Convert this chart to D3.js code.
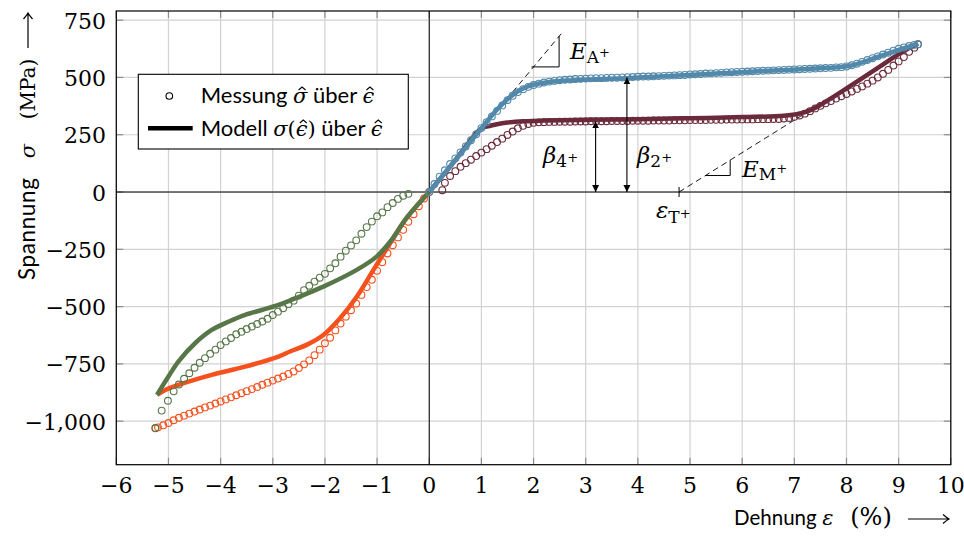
<!DOCTYPE html>
<html>
<head>
<meta charset="utf-8">
<script src="https://cdn.jsdelivr.net/npm/d3@7"></script>
<style>
body { margin: 0; background: #fff; }
svg { display: block; }
</style>
</head>
<body>
<svg id="chart" width="964" height="539"></svg>
<script>
// tick values
var xTicks = [-6, -5, -4, -3, -2, -1, 0, 1, 2, 3, 4, 5, 6, 7, 8, 9, 10];
var yTicks = [-1000, -750, -500, -250, 0, 250, 500, 750];

// measured points [strain %, stress MPa]
var tensionLoadMeas = [[0,0],[0.1,35],[0.2,67],[0.3,95],[0.4,122],[0.5,147],[0.6,173],[0.7,199],[0.8,226],[0.9,252],
  [1.0,279],[1.1,305],[1.2,330],[1.3,354],[1.4,378],[1.5,401],[1.6,420],[1.7,436],[1.8,449],[1.9,459],
  [2.0,467],[2.1,473],[2.2,478],[2.3,482],[2.4,485],[2.5,488],[2.6,490],[2.7,491],[2.8,493],[2.9,494],
  [3.0,495],[3.1,496],[3.2,497],[3.3,497],[3.4,498],[3.5,499],[3.6,499],[3.7,500],[3.8,501],[3.9,502],
  [4.0,503],[4.1,504],[4.2,504],[4.3,505],[4.4,506],[4.5,507],[4.6,508],[4.7,509],[4.8,510],[4.9,511],
  [5.0,513],[5.1,514],[5.2,515],[5.3,517],[5.4,518],[5.5,519],[5.6,520],[5.7,522],[5.8,523],[5.9,524],
  [6.0,525],[6.1,526],[6.2,527],[6.3,528],[6.4,529],[6.5,530],[6.6,531],[6.7,532],[6.8,533],[6.9,534],
  [7.0,535],[7.1,536],[7.2,537],[7.3,538],[7.4,539],[7.5,540],[7.6,541],[7.7,542],[7.8,544],[7.9,545],
  [8.0,548],[8.1,553],[8.2,560],[8.3,568],[8.4,576],[8.5,584],[8.6,592],[8.7,600],[8.8,608],[8.9,617],
  [9.0,625],[9.1,631],[9.2,637],[9.3,642],[9.37,645]];

var tensionUnloadMeas = [[9.37,645],[9.3,630],[9.2,612],[9.1,589],[9.0,570],[8.9,552],[8.8,533],[8.7,516],[8.6,500],
  [8.5,486],[8.4,473],[8.3,461],[8.2,450],[8.1,439],[8.0,428],[7.9,418],[7.8,408],[7.7,397],[7.6,387],
  [7.5,376],[7.4,365],[7.3,353],[7.2,342],[7.1,334],[7.0,328],[6.9,323],[6.8,321],[6.7,319],[6.6,319],
  [6.5,318],[6.4,318],[6.3,318],[6.2,317],[6.1,317],[6.0,317],[5.9,316],[5.8,316],[5.7,316],[5.6,315],
  [5.5,315],[5.4,315],[5.3,314],[5.2,314],[5.1,314],[5.0,314],[4.9,313],[4.8,313],[4.7,313],[4.6,312],
  [4.5,312],[4.4,312],[4.3,312],[4.2,311],[4.1,311],[4.0,311],[3.9,311],[3.8,310],[3.7,310],[3.6,310],
  [3.5,310],[3.4,309],[3.3,309],[3.2,309],[3.1,309],[3.0,308],[2.9,308],[2.8,308],[2.7,307],[2.6,307],
  [2.5,307],[2.4,306],[2.3,306],[2.2,305],[2.1,304],[2.0,302],[1.9,297],[1.8,289],[1.7,278],[1.6,264],
  [1.5,249],[1.4,233],[1.3,218],[1.2,202],[1.1,187],[1.0,172],[0.9,157],[0.8,141],[0.7,126],[0.6,110],
  [0.5,91],[0.4,70],[0.3,40],[0.25,8]];

var compLoadMeas = [[0,0],[-0.1,-28],[-0.2,-62],[-0.3,-97],[-0.4,-130],[-0.5,-165],[-0.6,-198],[-0.7,-232],
  [-0.8,-268],[-0.9,-306],[-1.0,-344],[-1.1,-383],[-1.2,-415],[-1.3,-449],[-1.4,-487],[-1.5,-516],
  [-1.6,-544],[-1.7,-574],[-1.8,-604],[-1.9,-636],[-2.0,-660],[-2.1,-688],[-2.2,-712],[-2.3,-735],
  [-2.4,-752],[-2.5,-768],[-2.6,-783],[-2.7,-794],[-2.8,-805],[-2.9,-814],[-3.0,-823],[-3.1,-832],
  [-3.2,-841],[-3.3,-851],[-3.4,-860],[-3.5,-869],[-3.6,-878],[-3.7,-887],[-3.8,-896],[-3.9,-905],
  [-4.0,-914],[-4.1,-923],[-4.2,-932],[-4.3,-940],[-4.4,-949],[-4.5,-958],[-4.6,-967],[-4.7,-976],
  [-4.8,-985],[-4.9,-996],[-5.0,-1008],[-5.1,-1018],[-5.2,-1027],[-5.25,-1031]];

var compUnloadMeas = [[-5.25,-1030],[-5.13,-954],[-5.01,-911],[-4.9,-870],[-4.8,-840],[-4.7,-815],[-4.6,-791],
  [-4.5,-767],[-4.4,-745],[-4.3,-725],[-4.2,-706],[-4.1,-688],[-4.0,-668],[-3.9,-652],[-3.8,-637],
  [-3.7,-621],[-3.6,-610],[-3.5,-598],[-3.4,-587],[-3.3,-576],[-3.2,-565],[-3.1,-553],[-3.0,-537],
  [-2.9,-522],[-2.8,-507],[-2.7,-490],[-2.6,-474],[-2.5,-452],[-2.4,-428],[-2.3,-409],[-2.2,-391],
  [-2.1,-374],[-2.0,-357],[-1.9,-333],[-1.8,-311],[-1.7,-282],[-1.6,-256],[-1.5,-233],[-1.4,-211],
  [-1.3,-182],[-1.2,-153],[-1.1,-129],[-1.0,-106],[-0.9,-89],[-0.8,-66],[-0.7,-48],[-0.6,-30],
  [-0.5,-16],[-0.4,-8]];

// model curves
var tensionLoadModel = [[0,0],[0.5,139],[1.0,278],[1.3,360],[1.5,405],[1.65,432],[1.8,452],[2.0,468],[2.3,480],
  [2.7,487],[3.2,492],[3.8,497],[4.5,505],[5.5,517],[6.5,529],[7.5,540],[7.9,546],[8.1,552],[8.3,566],
  [8.6,590],[9.0,620],[9.37,648]];
var tensionUnloadModel = [[9.37,648],[9.0,602],[8.63,546],[8.0,452],[7.55,387],[7.3,356],[7.1,342],[6.8,333],
  [6.0,327],[5.0,322],[4.0,318],[3.0,315],[2.2,312],[1.8,309],[1.5,303],[1.3,296],[1.15,288],[1.0,278],
  [0.5,139],[0,0]];
var compLoadModel = [[0,0],[-0.43,-112],[-0.75,-224],[-1.07,-340],[-1.39,-457],[-1.71,-551],[-2.03,-624],
  [-2.35,-667],[-2.67,-696],[-2.89,-718],[-3.53,-762],[-4.17,-798],[-4.81,-842],[-5.06,-864],[-5.22,-885]];
var compUnloadModel = [[-5.22,-885],[-5.0,-805],[-4.81,-740],[-4.49,-660],[-4.17,-602],[-3.85,-566],[-3.53,-536],
  [-3.21,-515],[-2.89,-493],[-2.57,-464],[-2.03,-413],[-1.39,-340],[-1.01,-282],[-0.75,-217],[-0.43,-112],[0,0]];

var series = [
  { meas: compLoadMeas, model: compLoadModel, color: "#f4511e" },
  { meas: compUnloadMeas, model: compUnloadModel, color: "#587748" },
  { meas: tensionUnloadMeas, model: tensionUnloadModel, color: "#6b2a3b" },
  { meas: tensionLoadMeas, model: tensionLoadModel, color: "#5289aa" }
];

// annotation geometry (data units)
var eaLine = [[0, 0], [2.55, 696]];
var eaTri = [[1.96, 546], [2.49, 546], [2.49, 680]];
var emLine = [[4.79, 0], [8.0, 456]];
var emTri = [[5.3, 72], [5.77, 72], [5.77, 139]];
var betaArrows = [{ x: 3.19, top: 308 }, { x: 3.79, top: 500 }];

var svg = d3.select("#chart");
var x = d3.scaleLinear().domain([-6, 10]).range([116.3, 950.8]);
var y = d3.scaleLinear().domain([-1190, 790]).range([464.7, 11]);

var serif = "DejaVu Serif";
var sans = "Lato";

// grid
var grid = svg.append("g").attr("stroke", "#d2d2d2").attr("stroke-width", 1.2);
grid.selectAll(".gx").data(xTicks).enter().append("line")
  .attr("x1", d => x(d)).attr("x2", d => x(d))
  .attr("y1", y.range()[0]).attr("y2", y.range()[1]);
grid.selectAll(".gy").data(yTicks).enter().append("line")
  .attr("y1", d => y(d)).attr("y2", d => y(d))
  .attr("x1", x.range()[0]).attr("x2", x.range()[1]);

// inner tick marks on the frame
var tk = svg.append("g").attr("stroke", "#8c8c8c").attr("stroke-width", 1.2);
xTicks.forEach(function (d) {
  tk.append("line").attr("x1", x(d)).attr("x2", x(d)).attr("y1", y.range()[0]).attr("y2", y.range()[0] - 7);
  tk.append("line").attr("x1", x(d)).attr("x2", x(d)).attr("y1", y.range()[1]).attr("y2", y.range()[1] + 7);
});
yTicks.forEach(function (d) {
  tk.append("line").attr("y1", y(d)).attr("y2", y(d)).attr("x1", x.range()[0]).attr("x2", x.range()[0] + 7);
  tk.append("line").attr("y1", y(d)).attr("y2", y(d)).attr("x1", x.range()[1]).attr("x2", x.range()[1] - 7);
});

// zero lines
svg.append("line").attr("x1", x(0)).attr("x2", x(0)).attr("y1", y.range()[0]).attr("y2", y.range()[1])
  .attr("stroke", "#000").attr("stroke-width", 1);
svg.append("line").attr("y1", y(0)).attr("y2", y(0)).attr("x1", x.range()[0]).attr("x2", x.range()[1])
  .attr("stroke", "#000").attr("stroke-width", 1);

// dashed helper lines and slope triangles
var lineGen = d3.line().x(d => x(d[0])).y(d => y(d[1]));
[eaLine, emLine].forEach(function (l) {
  svg.append("path").attr("d", lineGen(l)).attr("fill", "none")
    .attr("stroke", "#000").attr("stroke-width", 0.9).attr("stroke-dasharray", "6,4");
});
[eaTri, emTri].forEach(function (t) {
  svg.append("path").attr("d", lineGen(t)).attr("fill", "none")
    .attr("stroke", "#000").attr("stroke-width", 1);
});
// small mark at eps_T+
svg.append("line").attr("x1", x(emLine[0][0])).attr("x2", x(emLine[0][0]))
  .attr("y1", y(0) - 5).attr("y2", y(0) + 5).attr("stroke", "#000").attr("stroke-width", 1);

// data
var curve = d3.line().x(d => x(d[0])).y(d => y(d[1])).curve(d3.curveCatmullRom.alpha(0.5));
series.forEach(function (s) {
  svg.append("g").selectAll("circle").data(s.meas).enter().append("circle")
    .attr("cx", d => x(d[0])).attr("cy", d => y(d[1])).attr("r", 3.4)
    .attr("fill", "none").attr("stroke", s.color).attr("stroke-width", 1.1);
  svg.append("path").attr("d", curve(s.model)).attr("fill", "none")
    .attr("stroke", s.color).attr("stroke-width", 4.5).attr("stroke-linejoin", "round");
});

// beta arrows
var defs = svg.append("defs");
defs.append("marker").attr("id", "ah").attr("viewBox", "0 0 10 10").attr("refX", 10).attr("refY", 5)
  .attr("markerWidth", 7).attr("markerHeight", 8).attr("markerUnits", "userSpaceOnUse")
  .attr("orient", "auto-start-reverse")
  .append("path").attr("d", "M0,0 L10,5 L0,10 z").attr("fill", "#000");
betaArrows.forEach(function (a) {
  svg.append("line").attr("x1", x(a.x)).attr("x2", x(a.x)).attr("y1", y(0)).attr("y2", y(a.top))
    .attr("stroke", "#000").attr("stroke-width", 1.1)
    .attr("marker-start", "url(#ah)").attr("marker-end", "url(#ah)");
});

// frame
svg.append("rect").attr("x", x.range()[0]).attr("y", y.range()[1])
  .attr("width", x.range()[1] - x.range()[0]).attr("height", y.range()[0] - y.range()[1])
  .attr("fill", "none").attr("stroke", "#000").attr("stroke-width", 1.2);

// tick labels
var fmt = d3.format(",");
svg.append("g").selectAll("text").data(xTicks).enter().append("text")
  .attr("x", d => x(d)).attr("y", 493).attr("text-anchor", "middle")
  .attr("font-family", serif).attr("font-size", 22).attr("fill", "#000")
  .text(d => fmt(d));
svg.append("g").selectAll("text").data(yTicks).enter().append("text")
  .attr("x", 106).attr("y", d => y(d) + 8.5).attr("text-anchor", "end")
  .attr("font-family", serif).attr("font-size", 22).attr("fill", "#000")
  .text(d => fmt(d));

// math labels: italic main, roman subscript, superscript +
function mathLabel(px, py, main, sub, subDy, supDy) {
  var t = svg.append("text").attr("x", px).attr("y", py).attr("fill", "#000").attr("font-family", serif);
  t.append("tspan").text(main).attr("font-style", "italic").attr("font-size", 23);
  t.append("tspan").text(sub).attr("dy", subDy).attr("font-size", 17);
  t.append("tspan").text("+").attr("dy", supDy).attr("font-size", 13);
}
mathLabel(570, 59, "E", "A", 4, -6);
mathLabel(742, 176.5, "E", "M", 3.5, -7.5);
mathLabel(543, 163, "β", "4", 3.5, -4.5);
mathLabel(637, 163, "β", "2", 3.5, -4.5);
mathLabel(656, 218, "ε", "T", 5, -5);

// axis labels, pieces placed along the baseline
function piece(g, text, pos, anchor, family, size, italic) {
  return g.append("text").attr("x", pos).attr("y", 0).attr("text-anchor", anchor)
    .attr("font-family", family).attr("font-size", size).attr("fill", "#000")
    .attr("font-style", italic ? "italic" : null).text(text);
}
// long arrow like LaTeX \longrightarrow
function longArrow(g, s, e, off) {
  g.append("path")
    .attr("d", "M" + s + "," + off + "H" + e + "M" + (e - 6) + "," + (off - 4.5) +
      "Q" + (e - 2) + "," + (off - 1) + " " + e + "," + off +
      "Q" + (e - 2) + "," + (off + 1) + " " + (e - 6) + "," + (off + 4.5))
    .attr("fill", "none").attr("stroke", "#000").attr("stroke-width", 1.2);
}
var xl = svg.append("g").attr("transform", "translate(0,525)");
piece(xl, "Dehnung", 734, "start", sans, 20.5);
piece(xl, "ε", 828, "middle", serif, 21, true);
piece(xl, "(%)", 871, "middle", serif, 24);
longArrow(xl, 908, 949, -6);

var yl = svg.append("g").attr("transform", "translate(35,0) rotate(-90)");
piece(yl, "Spannung", -280, "start", sans, 22.5).attr("letter-spacing", 0.6);
piece(yl, "σ", -151, "middle", serif, 21, true);
piece(yl, "(MPa)", -89, "middle", serif, 20);
longArrow(yl, -48, -13, -7);

// legend
var lg = svg.append("g");
lg.append("rect").attr("x", 138.3).attr("y", 74.3).attr("width", 270).attr("height", 74.7)
  .attr("fill", "#fff").attr("stroke", "#000").attr("stroke-width", 1.1);
lg.append("circle").attr("cx", 169.3).attr("cy", 96).attr("r", 3.3)
  .attr("fill", "none").attr("stroke", "#000").attr("stroke-width", 1.1);
lg.append("line").attr("x1", 148).attr("x2", 192.7).attr("y1", 128.3).attr("y2", 128.3)
  .attr("stroke", "#000").attr("stroke-width", 4.5);

// each legend row: [text, kind] where kind s = sans, m = math italic, h = math italic with hat, r = math roman
var legendRows = [
  [["Messung ", "s"], ["σ", "h"], [" über ", "s"], ["ϵ", "h"]],
  [["Modell ", "s"], ["σ", "m"], ["(", "r"], ["ϵ", "h"], [")", "r"], [" über ", "s"], ["ϵ", "h"]]
];
legendRows.forEach(function (row, i) {
  var base = 103 + i * 33;
  var t = lg.append("text").attr("x", 200.7).attr("y", base).attr("fill", "#000");
  var hats = [];
  row.forEach(function (p) {
    var ts = t.append("tspan").text(p[0]);
    if (p[1] === "s") ts.attr("font-family", sans).attr("font-size", 22);
    else {
      ts.attr("font-family", serif).attr("font-size", 21);
      if (p[1] !== "r") ts.attr("font-style", "italic");
      if (p[1] === "h") hats.push(ts.node());
    }
  });
  // hat accents drawn as small chevrons above the glyph
  hats.forEach(function (n) {
    var b = n.getBBox();
    var cx = b.x + b.width / 2 + 1.5, top = base - 16;
    lg.append("path").attr("d", "M" + (cx - 3.5) + "," + (top + 3) + "L" + cx + "," + top + "L" + (cx + 3.5) + "," + (top + 3))
      .attr("fill", "none").attr("stroke", "#000").attr("stroke-width", 1.1);
  });
});
</script>
</body>
</html>
